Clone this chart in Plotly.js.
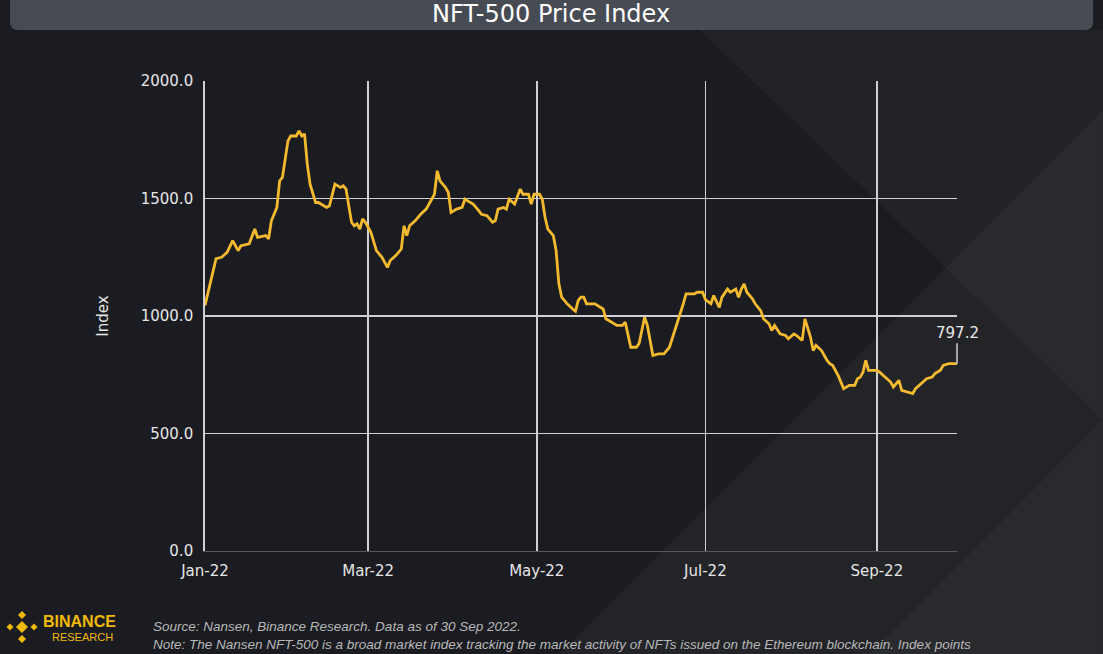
<!DOCTYPE html>
<html>
<head>
<meta charset="utf-8">
<script src="https://cdn.plot.ly/plotly-3.0.1.min.js"></script>
<style>
  html, body { margin: 0; padding: 0; background: #1b1c21; }
  #chart { width: 1103px; height: 654px; }
</style>
</head>
<body>
<div id="chart"></div>
<script>
const dates = [
  "2022-01-01","2022-01-03","2022-01-05","2022-01-07","2022-01-09","2022-01-11","2022-01-13","2022-01-14",
  "2022-01-17","2022-01-19","2022-01-20","2022-01-23","2022-01-24","2022-01-25","2022-01-27","2022-01-28",
  "2022-01-29","2022-01-31","2022-02-01","2022-02-03","2022-02-04","2022-02-05","2022-02-06","2022-02-07",
  "2022-02-08","2022-02-10","2022-02-11","2022-02-14","2022-02-15","2022-02-17","2022-02-19","2022-02-20",
  "2022-02-21","2022-02-23","2022-02-24","2022-02-25","2022-02-26","2022-02-27","2022-02-28","2022-03-02",
  "2022-03-03","2022-03-04","2022-03-06","2022-03-08","2022-03-09","2022-03-11","2022-03-13","2022-03-14",
  "2022-03-15","2022-03-16","2022-03-18","2022-03-20","2022-03-22","2022-03-24","2022-03-25","2022-03-26",
  "2022-03-27","2022-03-29","2022-03-30","2022-03-31","2022-04-02","2022-04-04","2022-04-05","2022-04-06",
  "2022-04-08","2022-04-10","2022-04-11","2022-04-13","2022-04-14","2022-04-15","2022-04-16","2022-04-17",
  "2022-04-19","2022-04-20","2022-04-21","2022-04-23","2022-04-25","2022-04-26","2022-04-28","2022-04-29",
  "2022-04-30","2022-05-02","2022-05-03","2022-05-04","2022-05-05","2022-05-07","2022-05-08","2022-05-09",
  "2022-05-10","2022-05-12","2022-05-14","2022-05-15","2022-05-16","2022-05-17","2022-05-18","2022-05-19",
  "2022-05-22","2022-05-24","2022-05-25","2022-05-26","2022-05-28","2022-05-30","2022-06-01","2022-06-02",
  "2022-06-04","2022-06-06","2022-06-07","2022-06-09","2022-06-10","2022-06-11","2022-06-12","2022-06-14",
  "2022-06-16","2022-06-18","2022-06-20","2022-06-22","2022-06-23","2022-06-24","2022-06-25","2022-06-27",
  "2022-06-28","2022-06-30","2022-07-01","2022-07-03","2022-07-04","2022-07-06","2022-07-07","2022-07-09",
  "2022-07-10","2022-07-12","2022-07-13","2022-07-14","2022-07-15","2022-07-16","2022-07-18","2022-07-19",
  "2022-07-21","2022-07-22","2022-07-24","2022-07-25","2022-07-26","2022-07-28","2022-07-30","2022-07-31",
  "2022-08-02","2022-08-03","2022-08-05","2022-08-06","2022-08-08","2022-08-09","2022-08-10","2022-08-12",
  "2022-08-14","2022-08-15","2022-08-16","2022-08-18","2022-08-20","2022-08-22","2022-08-24","2022-08-25",
  "2022-08-26","2022-08-27","2022-08-28","2022-08-29","2022-08-30","2022-09-01","2022-09-02","2022-09-04",
  "2022-09-06","2022-09-07","2022-09-09","2022-09-10","2022-09-12","2022-09-14","2022-09-15","2022-09-17",
  "2022-09-19","2022-09-21","2022-09-22","2022-09-24","2022-09-25","2022-09-27","2022-09-30"
];
const indexValues = [
  1045,1138,1244,1250,1271,1321,1278,1299,
  1307,1370,1335,1342,1328,1405,1462,1575,
  1590,1745,1766,1766,1788,1766,1775,1646,
  1561,1483,1483,1462,1469,1561,1547,1554,
  1540,1399,1384,1392,1370,1413,1399,1356,
  1321,1278,1250,1207,1236,1257,1285,1384,
  1342,1384,1405,1433,1455,1497,1518,1618,
  1575,1547,1526,1441,1455,1462,1497,1490,
  1476,1448,1433,1427,1413,1399,1405,1455,
  1462,1455,1497,1476,1540,1518,1518,1476,
  1518,1518,1497,1420,1370,1342,1278,1137,
  1080,1052,1030,1020,1066,1080,1080,1052,
  1052,1037,1030,988,974,960,960,974,
  867,867,882,995,960,896,832,839,
  839,867,938,1009,1052,1094,1094,1094,
  1101,1101,1070,1052,1087,1037,1080,1115,
  1101,1115,1080,1115,1137,1101,1073,1052,
  1023,988,967,938,960,924,917,903,
  924,917,896,988,910,853,875,853,
  811,797,790,747,691,705,705,733,
  740,761,811,769,769,769,761,740,
  719,698,726,684,677,670,691,712,
  733,740,755,769,790,797,797.2
];
const yTicks = [0, 500, 1000, 1500, 2000];
const titleText = "NFT-500 Price Index";
const yTitle = "Index";
const lastLabel = "797.2";
const sourceText = "Source: Nansen, Binance Research. Data as of 30 Sep 2022.";
const noteText = "Note: The Nansen NFT-500 is a broad market index tracking the market activity of NFTs issued on the Ethereum blockchain. Index points";

const MAIN_FONT = 'DejaVu Sans, Verdana, sans-serif';
const NOTE_FONT = 'Liberation Sans, Arial, sans-serif';

// pixel -> paper helpers (plot area 205..957 x 81..551)
const L = 205, R = 957, T = 81, B = 551;
const px = x => (x - L) / (R - L);
const py = y => (B - y) / (B - T);
function poly(pts) {
  return pts.map((p, i) => (i ? 'L' : 'M') + px(p[0]).toFixed(4) + ',' + py(p[1]).toFixed(4)).join(' ') + ' Z';
}
function roundRect(x0, y0, x1, y1, r) {
  const f = (x, y) => px(x).toFixed(4) + ',' + py(y).toFixed(4);
  return 'M' + f(x0, y0) + ' L' + f(x1, y0) + ' L' + f(x1, y1 - r) +
    ' Q' + f(x1, y1) + ' ' + f(x1 - r, y1) + ' L' + f(x0 + r, y1) +
    ' Q' + f(x0, y1) + ' ' + f(x0, y1 - r) + ' Z';
}
function diamond(cx, cy, r) {
  return poly([[cx, cy - r], [cx + r, cy], [cx, cy + r], [cx - r, cy]]);
}
const logoShape = (p) => ({type: 'path', xref: 'paper', yref: 'paper', line: {width: 0}, fillcolor: '#f0b90b', path: p});

const shapes = [
  // background geometric pattern
  {type: 'path', xref: 'paper', yref: 'paper', layer: 'below', line: {width: 0},
   fillcolor: 'rgba(255,255,255,0.035)', path: poly([[560, 654], [1103, 110], [1103, 654]])},
  {type: 'path', xref: 'paper', yref: 'paper', layer: 'below', line: {width: 0},
   fillcolor: 'rgba(255,255,255,0.03)', path: poly([[700, 30], [1103, 30], [1103, 420]])},
  {type: 'path', xref: 'paper', yref: 'paper', layer: 'below', line: {width: 0},
   fillcolor: 'rgba(255,255,255,0.03)', path: poly([[870, 654], [1103, 420], [1103, 654]])},
  // title bar
  {type: 'path', xref: 'paper', yref: 'paper', line: {width: 0},
   fillcolor: '#474b53', path: roundRect(10, -10, 1093, 30, 8)},
  // Binance logo
  logoShape(diamond(22, 627, 6)),
  logoShape(diamond(22, 615, 4)),
  logoShape(diamond(22, 639, 4)),
  logoShape(diamond(10, 627, 3.5)),
  logoShape(diamond(34, 627, 3.5))
];

const annotations = [
  {xref: 'paper', yref: 'paper', x: px(551), y: py(14), xanchor: 'center', yanchor: 'middle',
   text: titleText, showarrow: false, font: {family: MAIN_FONT, size: 24, color: '#ffffff'}},
  {x: dates[dates.length - 1], y: indexValues[indexValues.length - 1], xref: 'x', yref: 'y',
   text: lastLabel, showarrow: true, arrowhead: 0, arrowwidth: 1.5, arrowcolor: '#d0d0d0',
   ax: 0, ay: -31, standoff: 0, font: {family: MAIN_FONT, size: 15, color: '#e8e8e8'}},
  {xref: 'paper', yref: 'paper', x: px(41), y: py(621), xanchor: 'left', yanchor: 'middle', showarrow: false,
   text: '<b>BINANCE</b>', font: {family: NOTE_FONT, size: 16, color: '#f0b90b'}},
  {xref: 'paper', yref: 'paper', x: px(50), y: py(637), xanchor: 'left', yanchor: 'middle', showarrow: false,
   text: 'RESEARCH', font: {family: NOTE_FONT, size: 11, color: '#f0b90b'}},
  {xref: 'paper', yref: 'paper', x: px(151), y: py(626), xanchor: 'left', yanchor: 'middle', showarrow: false,
   text: '<i>' + sourceText + '</i>', font: {family: NOTE_FONT, size: 13.5, color: '#b8b8b8'}},
  {xref: 'paper', yref: 'paper', x: px(151), y: py(644), xanchor: 'left', yanchor: 'middle', showarrow: false,
   text: '<i>' + noteText + '</i>', font: {family: NOTE_FONT, size: 13.5, color: '#b8b8b8'}}
];

const trace = {
  x: dates, y: indexValues, type: 'scatter', mode: 'lines',
  line: {color: '#f3ba2f', width: 2.8}, hoverinfo: 'x+y'
};

const layout = {
  width: 1103, height: 654,
  margin: {l: L, r: 1103 - R, t: T, b: 654 - B, pad: 0},
  paper_bgcolor: '#1b1c21', plot_bgcolor: 'rgba(0,0,0,0)',
  showlegend: false,
  font: {family: MAIN_FONT, color: '#e6e6e6', size: 15},
  xaxis: {
    type: 'date', range: ['2022-01-01', '2022-09-30'],
    tick0: '2022-01-01', dtick: 'M2', tickformat: '%b-%y',
    showgrid: true, gridcolor: '#d0d0d0', gridwidth: 1.8,
    ticks: 'outside', ticklen: 6, tickcolor: 'rgba(0,0,0,0)',
    showline: true, linecolor: '#55575c', linewidth: 1,
    tickfont: {family: MAIN_FONT, size: 15, color: '#e6e6e6'}, zeroline: false
  },
  yaxis: {
    range: [0, 2000], tickvals: yTicks, tickformat: '.1f',
    showgrid: true, gridcolor: '#d0d0d0', gridwidth: 1.8,
    zeroline: false, showline: true, linecolor: '#d0d0d0', linewidth: 1.8,
    ticks: 'outside', ticklen: 7, tickcolor: 'rgba(0,0,0,0)',
    tickfont: {family: MAIN_FONT, size: 15, color: '#e6e6e6'},
    title: {text: yTitle, standoff: 28, font: {family: MAIN_FONT, size: 15, color: '#e6e6e6'}}
  },
  shapes: shapes,
  annotations: annotations
};

Plotly.newPlot('chart', [trace], layout, {displayModeBar: false, staticPlot: true});
</script>
</body>
</html>
